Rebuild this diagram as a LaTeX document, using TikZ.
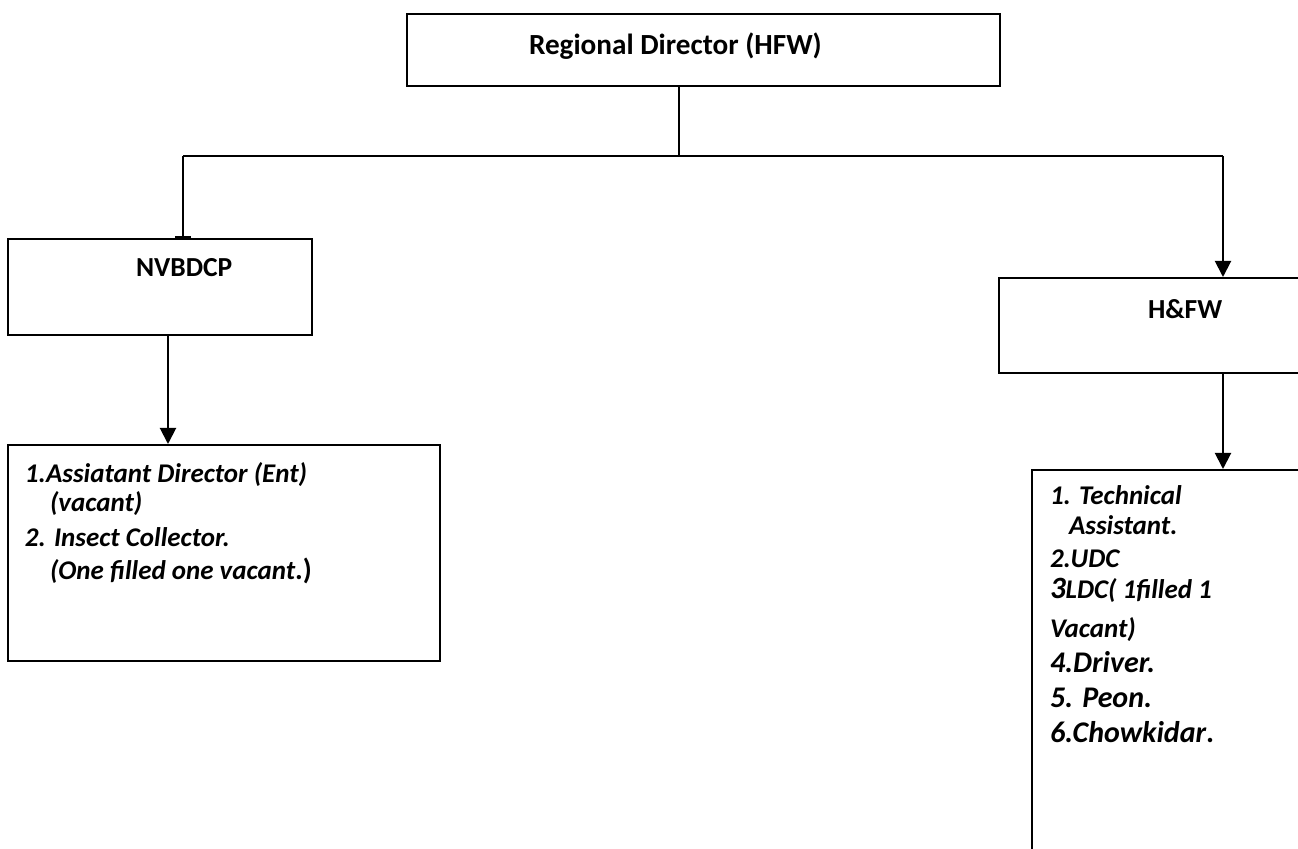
\documentclass[tikz,border=0pt]{standalone}
\usepackage{fontspec}
\setmainfont{Carlito}
\usetikzlibrary{arrows.meta}

\begin{document}
\begin{tikzpicture}[x=0.5pt,y=-0.5pt,>={Triangle[width=8pt,length=8pt]},
                    line width=1pt]
  \tikzstyle{box}=[draw,rectangle,inner sep=0pt,anchor=north west]
  \tikzstyle{head}=[anchor=base west,inner sep=0pt,
                    font=\fontsize{13.75}{16}\selectfont\bfseries]
  \tikzstyle{item}=[anchor=base west,inner sep=0pt,
                    font=\fontsize{13.5}{16}\selectfont\bfseries\itshape]
  \tikzstyle{big item}=[item,font=\fontsize{15}{18}\selectfont\bfseries\itshape]

  \useasboundingbox (0,0) rectangle (1298,849);
  \clip (0,0) rectangle (1298,849);

  % boxes
  \node[box,minimum width=296.5pt,minimum height=36pt]  (rd)      at (406,13)  {};
  \node[box,minimum width=152pt,minimum height=48pt]    (nv)      at (7,238)   {};
  \node[box,minimum width=170pt,minimum height=47.5pt]  (hfw)     at (998,277) {};
  \node[box,minimum width=216pt,minimum height=108pt]   (nvlist)  at (7,444)   {};
  \node[box,minimum width=150pt,minimum height=210pt]   (hfwlist) at (1031,469) {};

  % headings
  \node[head,font=\fontsize{14.6}{17}\selectfont\bfseries] (rdtext) at (528,55) {Regional Director (HFW)};
  \node[head] (nvtext)  at (135,277) {NVBDCP};
  \node[head] (hfwtext) at (1147,319) {H\&FW};

  % NVBDCP staff
  \node[item] (nv1) at (24,483) {1.Assiatant Director (Ent)};
  \node[item] (nv2) at (49,512) {(vacant)};
  \node[item] (nv3) at (24,547) {2. Insect Collector.};
  \node[item] (nv4) at (49,580) {(One filled one vacant{\upshape\fontsize{14.5}{17}\selectfont.)}};

  % H&FW staff
  \node[item]     (hf1) at (1049,505) {1. Technical};
  \node[item]     (hf2) at (1068,535) {Assistant.};
  \node[item]     (hf3) at (1049,568) {2.UDC};
  \node[item]     (hf4) at (1049,599) {{\fontsize{15.5}{18}\selectfont 3}LDC( 1filled 1};
  \node[item]     (hf5) at (1049,638) {Vacant)};
  \node[big item] (hf6) at (1049,673) {4.Driver.};
  \node[big item] (hf7) at (1049,708) {5. Peon.};
  \node[big item] (hf8) at (1049,743) {6.Chowkidar{\upshape.}};

  % connectors
  \coordinate (j)  at (679,156);
  \coordinate (bl) at (183,156);
  \coordinate (br) at (1223,156);

  \draw (rd.south -| j) -- (j);
  \draw (bl) -- (br);
  \draw[-{Bar[width=8pt]}] (bl) -- (bl |- nv.north);
  \draw[->] (br) -- (br |- hfw.north);
  \draw[->] ([xshift=4pt]nv.south) -- ([xshift=4pt]nv.south |- nvlist.north);
  \draw[->] (hfw.south -| br) -- (hfwlist.north -| br);
\end{tikzpicture}
\end{document}
